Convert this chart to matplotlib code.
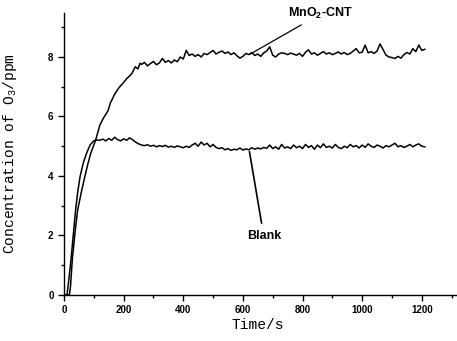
import numpy as np
import matplotlib.pyplot as plt
from matplotlib.ticker import MultipleLocator

# MnO2-CNT: subida inicial y meseta
mno2_rise_t = [12, 18, 22, 28, 37, 46, 58, 70, 80, 90, 106, 120, 132, 148, 155,
               170, 183, 198, 211, 220, 228, 239, 248, 255]
mno2_rise_v = [0.0, 0.0, 0.3, 1.2, 2.1, 2.86, 3.45, 3.98, 4.4, 4.77, 5.2, 5.7,
               5.94, 6.2, 6.44, 6.75, 6.95, 7.12, 7.28, 7.36, 7.45, 7.67, 7.6, 7.79]
mno2_flat_t = np.arange(260, 1211, 10)
mno2_flat_v = [7.75, 7.82, 7.70, 7.78, 7.85, 7.74, 7.80, 7.95, 7.82, 7.88,
               7.80, 7.90, 7.84, 8.00, 7.93, 8.22, 8.05, 8.10, 8.02, 8.08,
               8.00, 8.12, 8.08, 8.15, 8.22, 8.10, 8.16, 8.20, 8.12, 8.17,
               8.08, 8.14, 8.04, 7.96, 8.02, 8.12, 8.08, 8.15, 8.05, 8.10,
               8.02, 8.14, 8.20, 8.34, 8.06, 8.00, 8.10, 8.14, 8.12, 8.08,
               8.13, 8.10, 8.06, 8.12, 8.02, 8.16, 8.24, 8.10, 8.14, 8.06,
               8.12, 8.18, 8.10, 8.14, 8.08, 8.12, 8.17, 8.10, 8.15, 8.08,
               8.12, 8.20, 8.28, 8.14, 8.16, 8.40, 8.14, 8.18, 8.12, 8.20,
               8.44, 8.25, 8.06, 8.00, 7.98, 7.95, 8.02, 7.96, 8.08, 8.15,
               8.10, 8.28, 8.18, 8.40, 8.22, 8.26]

# Blank
blank_rise_t = [5, 10, 15, 23.5, 31, 39, 46, 54, 65, 76, 88, 100, 110]
blank_rise_v = [0.0, 0.0, 0.4, 1.18, 2.0, 2.86, 3.45, 3.98, 4.45, 4.77, 5.05, 5.18, 5.21]
blank_flat_t = np.arange(120, 1211, 10)
blank_flat_v = [5.20, 5.24, 5.18, 5.26, 5.20, 5.30, 5.22, 5.18, 5.25, 5.20,
                5.28, 5.22, 5.14, 5.08, 5.04, 5.02, 5.05, 5.00, 5.03, 4.98,
                5.02, 4.99, 5.03, 4.97, 5.00, 4.96, 5.01, 4.98, 4.95, 5.00,
                4.96, 5.04, 5.10, 5.00, 5.14, 5.04, 5.10, 4.98, 5.06, 4.96,
                4.92, 4.95, 4.88, 4.92, 4.86, 4.90, 4.88, 4.94, 4.87, 4.91,
                4.88, 4.95, 4.90, 4.94, 4.91, 4.96, 4.93, 5.04, 4.92, 4.98,
                4.90, 5.06, 4.94, 4.98, 4.92, 5.04, 4.95, 5.00, 4.92, 5.06,
                4.96, 5.02, 4.90, 5.04, 4.95, 5.08, 4.96, 5.00, 4.94, 5.06,
                4.96, 4.92, 5.00, 4.95, 5.06, 4.98, 5.02, 4.94, 5.04, 4.96,
                5.08, 5.00, 4.96, 5.04, 5.00, 4.94, 5.02, 4.98, 5.04, 5.10,
                4.98, 5.02, 4.96, 5.00, 5.06, 4.98, 5.04, 5.08, 5.00, 4.98]

mno2_t = np.concatenate([mno2_rise_t, mno2_flat_t])
mno2_v = np.concatenate([mno2_rise_v, mno2_flat_v])
blank_t = np.concatenate([blank_rise_t, blank_flat_t])
blank_v = np.concatenate([blank_rise_v, blank_flat_v])

plt.rcParams['mathtext.default'] = 'regular'

fig = plt.figure(figsize=(4.57, 3.41), dpi=100)
ax = fig.add_axes([0.140, 0.135, 0.858, 0.827])

ax.plot(mno2_t, mno2_v, color='black', lw=1.1)
ax.plot(blank_t, blank_v, color='black', lw=1.1)

ax.set_xlim(0, 1315)
ax.set_ylim(0, 9.48)
ax.xaxis.set_major_locator(MultipleLocator(200))
ax.xaxis.set_minor_locator(MultipleLocator(100))
ax.yaxis.set_major_locator(MultipleLocator(2))
ax.yaxis.set_minor_locator(MultipleLocator(1))
ax.spines['top'].set_visible(False)
ax.spines['right'].set_visible(False)
for s in ['left', 'bottom']:
    ax.spines[s].set_linewidth(1.0)
ax.tick_params(which='major', direction='out', length=4, width=1, pad=3.5)
ax.tick_params(which='minor', direction='out', length=2.5, width=1)
for lab in ax.get_xticklabels() + ax.get_yticklabels():
    lab.set_fontfamily('Liberation Sans')
    lab.set_fontweight('bold')
    lab.set_fontsize(7)

ax.set_xlabel('Time/s', fontfamily='Liberation Mono', fontsize=10.5)
ax.set_ylabel('Concentration of O$_3$/ppm', fontfamily='Liberation Mono', fontsize=10.5)
ax.xaxis.set_label_coords(0.495, -0.08)
ax.yaxis.set_label_coords(-0.115, 0.5)

ax.annotate('MnO$_2$-CNT', xy=(625, 8.1), xytext=(752, 9.45),
            ha='left', va='center', fontfamily='Liberation Sans',
            fontweight='bold', fontsize=9, annotation_clip=False,
            arrowprops=dict(arrowstyle='-', color='black', lw=0.9,
                            shrinkA=1, shrinkB=0))
ax.annotate('Blank', xy=(622, 4.82), xytext=(670, 1.98),
            ha='center', va='center', fontfamily='Liberation Sans',
            fontweight='bold', fontsize=9,
            arrowprops=dict(arrowstyle='-', color='black', lw=1.2,
                            shrinkA=3, shrinkB=0))

fig.savefig('out.png', dpi=100)
